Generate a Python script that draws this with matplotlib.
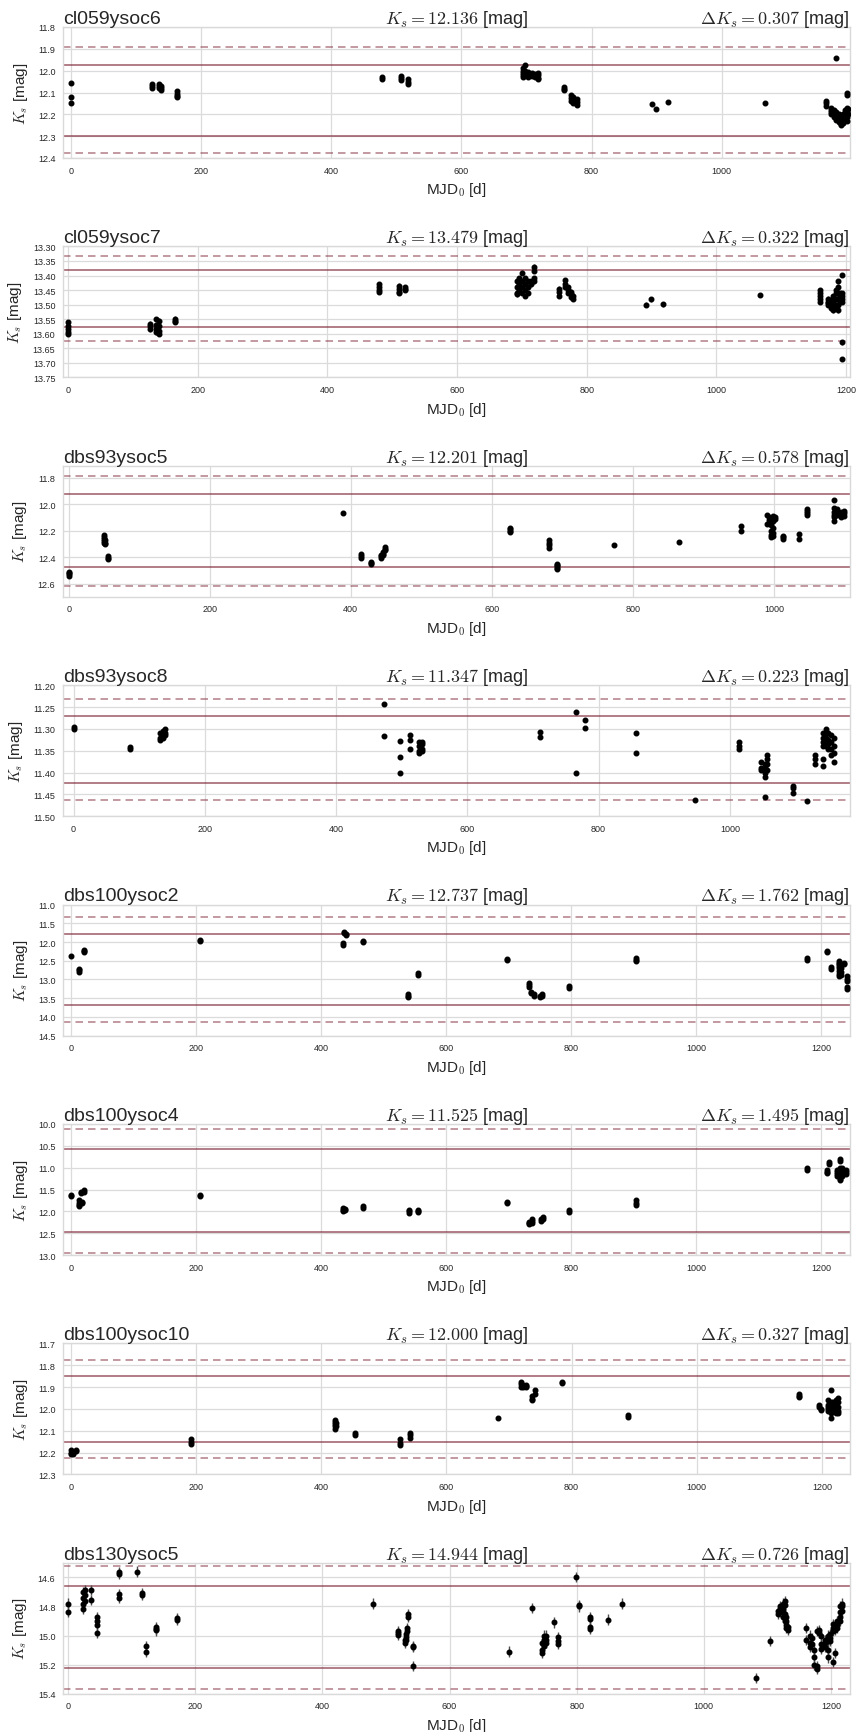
import numpy as np
import matplotlib
matplotlib.use('Agg')
from matplotlib import pyplot as plt
from matplotlib.ticker import MultipleLocator, FormatStrFormatter
import seaborn as sns

sns.set_style('whitegrid')
plt.rcParams['font.family'] = ['Liberation Sans', 'DejaVu Sans']
plt.rcParams['mathtext.fontset'] = 'cm'

stars = ['cl059ysoc6', 'cl059ysoc7', 'dbs93ysoc5', 'dbs93ysoc8',
         'dbs100ysoc2', 'dbs100ysoc4', 'dbs100ysoc10', 'dbs130ysoc5']
mean_ks = [12.136, 13.479, 12.201, 11.347, 12.737, 11.525, 12.000, 14.944]
delta_ks = [0.307, 0.322, 0.578, 0.223, 1.762, 1.495, 0.327, 0.726]
sigma_ks = [0.081, 0.049, 0.138, 0.0383, 0.47, 0.473, 0.075, 0.141]
err_ks = [0.004, 0.008, 0.006, 0.003, 0.02, 0.02, 0.004, 0.035]

# light curves: observation day -> magnitudes measured that night
days_1 = [0, 125, 136, 139, 163, 478, 508, 518, 695, 698, 703, 708, 713, 718,
          757, 768, 772, 777, 893, 899, 918, 1067, 1160, 1168, 1172, 1175.5,
          1176, 1180, 1183, 1186, 1189, 1192, 1193, 1194]
mags_1 = [[12.055, 12.119, 12.148], [12.06, 12.07, 12.08], [12.06, 12.07, 12.08],
          [12.07, 12.08, 12.09], [12.095, 12.105, 12.115, 12.12], [12.03, 12.04],
          [12.025, 12.035, 12.045], [12.04, 12.05, 12.06],
          [11.99, 12.0, 12.01, 12.02, 12.03], [11.975, 12.0, 12.02], [12.005, 12.02, 12.03],
          [12.01, 12.02, 12.025], [12.015, 12.025, 12.03], [12.01, 12.02, 12.035, 12.04],
          [12.075, 12.085, 12.09], [12.11, 12.125, 12.14], [12.12, 12.135, 12.15],
          [12.13, 12.145, 12.155], [12.154], [12.174], [12.142], [12.148],
          [12.14, 12.15, 12.16], [12.17, 12.18, 12.19, 12.2], [12.18, 12.2, 12.21], [11.944],
          [12.19, 12.205, 12.215, 12.225], [12.2, 12.22, 12.235], [12.21, 12.23, 12.245, 12.25],
          [12.2, 12.215, 12.23, 12.24], [12.18, 12.2, 12.22], [12.17, 12.19, 12.21, 12.23],
          [12.1, 12.11], [12.175, 12.2]]

days_2 = [0, 126, 135, 140, 164, 480, 511, 520, 692, 696, 700, 705, 710, 714, 718,
          757, 767, 771, 775, 779, 892, 899, 918, 1067, 1159, 1172, 1176, 1180,
          1184, 1187, 1190, 1193]
mags_2 = [[13.56, 13.575, 13.585, 13.595, 13.6], [13.565, 13.575, 13.585],
          [13.55, 13.57, 13.585, 13.595], [13.555, 13.575, 13.59, 13.6], [13.548, 13.555, 13.56],
          [13.43, 13.44, 13.45, 13.455], [13.435, 13.445, 13.455, 13.46], [13.44, 13.445, 13.45],
          [13.42, 13.44, 13.46, 13.465], [13.41, 13.43, 13.45], [13.39, 13.42, 13.44, 13.46],
          [13.41, 13.43, 13.45, 13.47], [13.42, 13.44, 13.46], [13.42, 13.43],
          [13.37, 13.385, 13.41, 13.42], [13.445, 13.455, 13.47], [13.415, 13.43, 13.44],
          [13.44, 13.45, 13.46], [13.455, 13.465, 13.475], [13.47, 13.48], [13.5], [13.482],
          [13.499], [13.467], [13.45, 13.46, 13.47, 13.48, 13.49], [13.48, 13.49, 13.495, 13.5],
          [13.485, 13.495, 13.505, 13.51], [13.47, 13.49, 13.5, 13.52],
          [13.45, 13.46, 13.48, 13.5, 13.51], [13.42, 13.44, 13.46, 13.48, 13.5, 13.52],
          [13.46, 13.47, 13.48, 13.49], [13.398, 13.46, 13.47, 13.48, 13.49, 13.63, 13.687]]

days_3 = [0, 50, 52, 56, 389, 414, 429, 443, 446, 449, 626, 681, 693, 774, 866, 953,
          990, 993, 996, 999, 1002, 1013, 1036, 1047, 1085, 1090, 1095, 1100]
mags_3 = [[12.51, 12.52, 12.53, 12.54], [12.235, 12.245, 12.26, 12.28, 12.29],
          [12.27, 12.29, 12.3], [12.395, 12.405, 12.415], [12.068], [12.38, 12.39, 12.405],
          [12.435, 12.445, 12.455], [12.385, 12.395, 12.405], [12.36, 12.375, 12.385],
          [12.325, 12.335, 12.35], [12.18, 12.19, 12.2, 12.21], [12.27, 12.29, 12.31, 12.33],
          [12.45, 12.46, 12.47, 12.48, 12.49], [12.307], [12.287], [12.165, 12.205],
          [12.08, 12.15], [12.1, 12.12, 12.14], [12.16, 12.2, 12.23, 12.25],
          [12.09, 12.13, 12.18, 12.22, 12.24], [12.095, 12.11], [12.24, 12.25, 12.26],
          [12.225, 12.26], [12.04, 12.055, 12.07, 12.085],
          [11.97, 12.03, 12.06, 12.08, 12.1, 12.13], [12.04, 12.06, 12.08],
          [12.06, 12.08, 12.1], [12.05, 12.07, 12.09]]

days_4 = [0, 86, 132, 136, 140, 473, 497, 512, 527, 531, 710, 765, 779, 857, 947,
          1014, 1048, 1053, 1057, 1096, 1118, 1130, 1142, 1146, 1150, 1154, 1158]
mags_4 = [[11.295, 11.3], [11.342, 11.347], [11.31, 11.32, 11.325], [11.305, 11.315, 11.32],
          [11.3, 11.31, 11.315], [11.244, 11.316], [11.328, 11.365, 11.40],
          [11.315, 11.325, 11.345], [11.33, 11.34, 11.35, 11.355], [11.33, 11.335, 11.345, 11.35],
          [11.307, 11.318], [11.261, 11.40], [11.279, 11.299], [11.31, 11.355], [11.462],
          [11.33, 11.34, 11.347], [11.375, 11.39, 11.395], [11.38, 11.39, 11.4, 11.41, 11.455],
          [11.36, 11.37, 11.38, 11.395], [11.43, 11.435, 11.448], [11.466], [11.36, 11.37, 11.38],
          [11.31, 11.32, 11.33, 11.34, 11.37, 11.385], [11.3, 11.31, 11.32, 11.33, 11.34],
          [11.31, 11.325, 11.335, 11.345], [11.315, 11.33, 11.345, 11.36],
          [11.32, 11.34, 11.355, 11.375]]

days_5 = [0, 12, 20, 206, 435, 437, 439, 467, 539, 555, 697, 732, 736, 741, 750, 754,
          797, 903, 1178, 1210, 1215, 1228, 1232, 1236, 1242]
mags_5 = [[12.38], [12.73, 12.76, 12.8], [12.2, 12.23, 12.26], [11.95, 11.98], [12.03, 12.07],
          [11.72, 11.75], [11.78, 11.82], [11.98, 12.0], [13.4, 13.43, 13.46], [12.84, 12.88],
          [12.45, 12.48], [13.1, 13.15, 13.2], [13.33, 13.37], [13.38, 13.43], [13.44, 13.48],
          [13.4, 13.44], [13.18, 13.22], [12.44, 12.47, 12.5], [12.44, 12.47], [12.23, 12.26],
          [12.68, 12.72], [12.5, 12.55, 12.6, 12.65, 12.7, 12.78, 12.85, 12.9],
          [12.6, 12.7, 12.8, 12.88], [12.55, 12.6], [12.9, 13.0, 13.05, 13.2, 13.25]]

days_6 = [0, 13, 15, 18, 20, 206, 435, 438, 467, 540, 555, 697, 733, 738, 752, 755,
          797, 903, 1178, 1210, 1213, 1225, 1230, 1234, 1240]
mags_6 = [[11.62, 11.65], [11.75, 11.8, 11.85, 11.88], [11.56, 11.58], [11.78, 11.82],
          [11.52, 11.55], [11.62, 11.66], [11.93, 11.97, 12.0], [11.95, 11.98], [11.88, 11.92],
          [11.97, 12.0, 12.03], [11.97, 12.0, 12.02], [11.78, 11.8], [12.25, 12.27, 12.29],
          [12.18, 12.22, 12.26], [12.18, 12.22], [12.13, 12.17], [11.98, 12.02],
          [11.75, 11.8, 11.85], [11.0, 11.05], [11.05, 11.1, 11.13], [10.88, 10.92],
          [11.05, 11.1, 11.15, 11.2], [10.8, 10.84, 11.0, 11.1, 11.15, 11.25, 11.29],
          [11.0, 11.05, 11.1, 11.18], [11.05, 11.1, 11.15]]

days_7 = [0, 3, 7, 192, 422, 424, 454, 525, 541, 682, 719, 723, 727, 737, 741, 784,
          890, 1163, 1195, 1199, 1210, 1214, 1218, 1222, 1226]
mags_7 = [[12.19, 12.2, 12.205], [12.2, 12.205], [12.19, 12.195], [12.14, 12.15, 12.16],
          [12.05, 12.06, 12.07, 12.08, 12.09], [12.065, 12.08], [12.11, 12.12],
          [12.14, 12.155, 12.165], [12.11, 12.12, 12.135], [12.04], [11.875, 11.885, 11.9],
          [11.89, 11.9], [11.89, 11.895, 11.9], [11.94, 11.955, 11.96], [11.915, 11.93],
          [11.875, 11.88], [12.03, 12.035], [11.93, 11.94, 11.945], [11.98, 11.99],
          [12.0, 12.005], [11.96, 11.98, 11.99, 12.0, 12.01], [11.915, 11.97, 12.0, 12.02, 12.04],
          [11.97, 11.98, 11.99, 12.0], [11.96, 11.98, 11.99, 12.005, 12.02],
          [11.95, 11.97, 11.99, 12.01, 12.02]]

days_8 = [0, 24, 26, 36, 46, 80, 109, 116, 122, 139, 171, 480, 519, 530, 532, 533, 534,
          543, 693, 730, 746, 749, 752, 764, 770, 799, 803, 821, 849, 872, 1082, 1104,
          1116, 1120, 1124, 1127, 1130, 1132, 1161, 1167, 1170, 1174, 1178, 1181, 1185,
          1190, 1195, 1199, 1203, 1206, 1210, 1214, 1218]
mags_8 = [[14.78, 14.84], [14.7, 14.74, 14.78, 14.82], [14.69, 14.72, 14.76], [14.685, 14.757],
          [14.87, 14.9, 14.93, 14.98], [14.565, 14.575, 14.715, 14.74], [14.56], [14.705, 14.72],
          [15.07, 15.11], [14.94, 14.955, 14.965], [14.88, 14.895], [14.78],
          [14.97, 14.985, 14.995], [15.03, 15.05], [14.99, 15.01, 15.03], [14.95, 14.97],
          [14.85, 14.87], [15.07, 15.08, 15.21], [15.11], [14.81], [15.05, 15.1, 15.12],
          [15.0, 15.03, 15.07], [15.0, 15.03, 15.05], [14.91], [15.01, 15.04, 15.06], [14.6],
          [14.79, 14.8], [14.87, 14.885, 14.94, 14.955], [14.89], [14.78], [15.29], [15.04],
          [14.83, 14.85], [14.8, 14.82, 14.84], [14.78, 14.8, 14.82, 14.84, 14.87],
          [14.76, 14.79, 14.85, 14.9], [14.87, 14.9, 14.93, 14.95], [14.94, 14.96],
          [14.95, 15.03], [15.0, 15.05, 15.08], [15.02, 15.06], [15.1, 15.15, 15.2],
          [14.97, 15.21, 15.23], [14.96, 14.98], [15.0, 15.06, 15.09], [15.03, 15.05, 15.08],
          [15.0, 15.04, 15.1, 15.15], [14.99, 15.02, 15.04], [14.92, 14.95, 14.97, 15.18],
          [14.93, 14.96, 15.12], [14.9, 14.93, 14.95], [14.8, 14.84, 14.87, 14.9],
          [14.78, 14.8, 14.83]]

all_days = [days_1, days_2, days_3, days_4, days_5, days_6, days_7, days_8]
all_mags = [mags_1, mags_2, mags_3, mags_4, mags_5, mags_6, mags_7, mags_8]

# axis ranges as in the original plots
xlims = [(-12, 1197), (-8, 1206), (-8, 1108), (-16, 1183),
         (-13, 1246), (-13, 1246), (-13, 1245), (-8, 1230)]
ylims = [(11.8, 12.4), (13.30, 13.75), (11.71, 12.70), (11.20, 11.50),
         (11.0, 14.5), (10.0, 13.0), (11.7, 12.3), (14.5, 15.4)]
ysteps = [0.1, 0.05, 0.2, 0.05, 0.5, 0.5, 0.1, 0.2]
yfmts = ['%.1f', '%.2f', '%.1f', '%.2f', '%.1f', '%.1f', '%.1f', '%.1f']

W, H = 859, 1733
fig = plt.figure(figsize=(W/100, H/100), dpi=100)
line_col = '#7f2536'

for i in range(len(stars)):
    top = 28 + 219.4*i
    ax = fig.add_axes([63/W, 1 - (top + 131)/H, 787/W, 131/H])
    x, y = [], []
    for d, ms in zip(all_days[i], all_mags[i]):
        for m in ms:
            x.append(d)
            y.append(m)
    x = np.array(x)
    y = np.array(y)
    mu, s = mean_ks[i], sigma_ks[i]
    for k, ls, a in [(2, '-', 0.7), (3, (0, (4.5, 3)), 0.55)]:
        ax.axhline(mu - k*s, color=line_col, ls=ls, lw=1.2, alpha=a, zorder=2)
        ax.axhline(mu + k*s, color=line_col, ls=ls, lw=1.2, alpha=a, zorder=2)
    ax.errorbar(x, y, yerr=np.full(len(y), err_ks[i]), fmt='o', color='k', ms=3.3,
                ecolor='0.3', elinewidth=1, capsize=0, zorder=3)
    ax.set_xlim(*xlims[i])
    ax.set_ylim(ylims[i][1], ylims[i][0])
    ax.xaxis.set_major_locator(MultipleLocator(200))
    ax.yaxis.set_major_locator(MultipleLocator(ysteps[i]))
    ax.yaxis.set_major_formatter(FormatStrFormatter(yfmts[i]))
    ax.tick_params(labelsize=6.5, pad=2, colors='0.15')
    ax.grid(color='0.86', lw=0.9)
    for sp in ax.spines.values():
        sp.set_color('0.85')
        sp.set_linewidth(1)
    ax.set_title(stars[i], loc='left', fontsize=14, pad=3)
    ax.set_title(r'$K_s=%.3f$ [mag]' % mean_ks[i], loc='center', fontsize=13, pad=3)
    ax.set_title(r'$\Delta K_s=%.3f$ [mag]' % delta_ks[i], loc='right', fontsize=13, pad=3)
    ax.set_ylabel(r'$K_s$ [mag]', fontsize=11, labelpad=6)
    ax.set_xlabel(r'MJD$_0$ [d]', fontsize=11, labelpad=4)

plt.savefig('out.png', dpi=100)
